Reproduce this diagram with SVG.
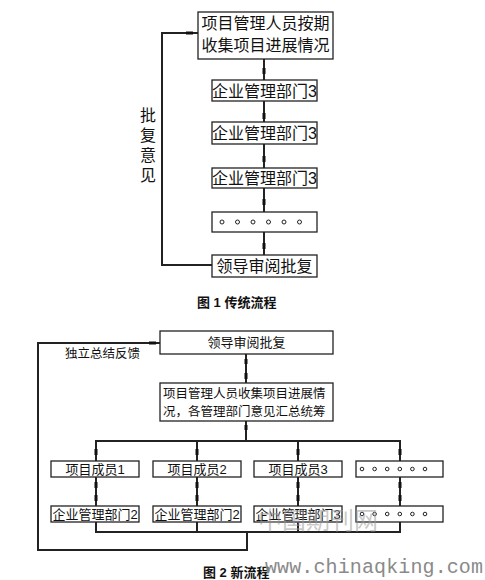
<svg xmlns="http://www.w3.org/2000/svg" width="485" height="580" viewBox="0 0 485 580">
<style>
.box{fill:#fff;stroke:#222;stroke-width:1.3}
.ln{fill:none;stroke:#222;stroke-width:2}
.mk{fill:#111}
.t16{font-family:"Liberation Sans","Noto Sans CJK SC",sans-serif;font-size:16px;fill:#111;text-anchor:middle}
.t13{font-family:"Liberation Sans","Noto Sans CJK SC",sans-serif;font-size:13px;fill:#111;text-anchor:middle}
.t12{font-family:"Liberation Sans","Noto Sans CJK SC",sans-serif;font-size:12.5px;fill:#111}
.cap{font-family:"Liberation Sans","Noto Sans CJK SC",sans-serif;font-size:13px;font-weight:bold;fill:#111}
.dot{fill:#fff;stroke:#222;stroke-width:1}
</style>
<rect width="485" height="580" fill="#fff"/>

<g id="connectors">
  <!-- Figure 1 -->
  <path class="ln" d="M264,59 V255"/>
  <path class="ln" d="M198,33 H162 V265 H212"/>
  <rect class="mk" x="186" y="31.5" width="7" height="3"/>
  <rect class="mk" x="262.5" y="68" width="3" height="6"/>
  <rect class="mk" x="262.5" y="113" width="3" height="6"/>
  <rect class="mk" x="262.5" y="156" width="3" height="6"/>
  <rect class="mk" x="262.5" y="199" width="3" height="6"/>
  <rect class="mk" x="262.5" y="243" width="3" height="6"/>
  <!-- Figure 2 -->
  <path class="ln" d="M160,343 H38 V550 H247 V532"/>
  <rect class="mk" x="149" y="341.5" width="7" height="3"/>
  <path class="ln" d="M246,354 V441"/>
  <rect class="mk" x="244.5" y="359" width="3" height="5"/>
  <rect class="mk" x="244.5" y="373" width="3" height="6"/>
  <rect class="mk" x="244.5" y="425" width="3" height="5"/>
  <path class="ln" d="M96,461 V441 H400 V461"/>
  <path class="ln" d="M197,441 V461 M298,441 V461"/>
  <path class="ln" d="M96,477 V506 M197,477 V506 M298,477 V506 M400,477 V506"/>
  <path class="ln" d="M96,522 V532 H400 V522 M197,522 V532 M298,522 V532"/>
  <rect class="mk" x="94.5" y="449" width="3" height="6"/>
  <rect class="mk" x="195.5" y="449" width="3" height="6"/>
  <rect class="mk" x="296.5" y="449" width="3" height="6"/>
  <rect class="mk" x="398.5" y="449" width="3" height="6"/>
  <rect class="mk" x="94.5" y="482" width="3" height="6"/>
  <rect class="mk" x="94.5" y="495" width="3" height="6"/>
  <rect class="mk" x="195.5" y="482" width="3" height="6"/>
  <rect class="mk" x="195.5" y="495" width="3" height="6"/>
  <rect class="mk" x="296.5" y="482" width="3" height="6"/>
  <rect class="mk" x="296.5" y="495" width="3" height="6"/>
  <rect class="mk" x="398.5" y="482" width="3" height="6"/>
  <rect class="mk" x="398.5" y="495" width="3" height="6"/>
</g>

<!-- Figure 1 nodes -->
<g id="f1-collect">
  <rect class="box" x="198" y="12" width="135" height="47"/>
  <text class="t16" x="265.5" y="29">项目管理人员按期</text>
  <text class="t16" x="265.5" y="51">收集项目进展情况</text>
</g>
<g id="f1-dept1">
  <rect class="box" x="212" y="80" width="105" height="21"/>
  <text class="t16" x="264.5" y="96.5">企业管理部门3</text>
</g>
<g id="f1-dept2">
  <rect class="box" x="212" y="122" width="105" height="22"/>
  <text class="t16" x="264.5" y="139">企业管理部门3</text>
</g>
<g id="f1-dept3">
  <rect class="box" x="212" y="168" width="105" height="20"/>
  <text class="t16" x="264.5" y="184">企业管理部门3</text>
</g>
<g id="f1-dots">
  <rect class="box" x="212" y="212" width="105" height="20"/>
  <circle class="dot" cx="222" cy="222" r="2"/>
  <circle class="dot" cx="237.5" cy="222" r="2"/>
  <circle class="dot" cx="253" cy="222" r="2"/>
  <circle class="dot" cx="268.5" cy="222" r="2"/>
  <circle class="dot" cx="284" cy="222" r="2"/>
  <circle class="dot" cx="299.5" cy="222" r="2"/>
</g>
<g id="f1-leader">
  <rect class="box" x="212" y="255" width="105" height="22"/>
  <text class="t16" x="264.5" y="272">领导审阅批复</text>
</g>
<g id="f1-label">
  <text class="t16" x="148" y="121">批</text>
  <text class="t16" x="148" y="141">复</text>
  <text class="t16" x="148" y="161">意</text>
  <text class="t16" x="148" y="181">见</text>
</g>
<text class="cap" x="197" y="307">图 1 传统流程</text>

<!-- Figure 2 nodes -->
<g id="f2-leader">
  <rect class="box" x="160" y="331" width="173" height="23"/>
  <text class="t13" x="246.5" y="347">领导审阅批复</text>
</g>
<g id="f2-collect">
  <rect class="box" x="160" y="383" width="173" height="38"/>
  <text class="t12" x="163" y="398">项目管理人员收集项目进展情</text>
  <text class="t12" x="163" y="416">况，各管理部门意见汇总统筹</text>
</g>
<text class="t12" x="65" y="358">独立总结反馈</text>
<g id="f2-m1">
  <rect class="box" x="51" y="461" width="88" height="16"/>
  <text class="t13" x="95" y="474">项目成员1</text>
</g>
<g id="f2-m2">
  <rect class="box" x="153" y="461" width="88" height="16"/>
  <text class="t13" x="197" y="474">项目成员2</text>
</g>
<g id="f2-m3">
  <rect class="box" x="254" y="461" width="88" height="16"/>
  <text class="t13" x="298" y="474">项目成员3</text>
</g>
<g id="f2-mdots">
  <rect class="box" x="356" y="461" width="87" height="16"/>
  <circle class="dot" cx="362" cy="469" r="1.8"/>
  <circle class="dot" cx="374.6" cy="469" r="1.8"/>
  <circle class="dot" cx="387.2" cy="469" r="1.8"/>
  <circle class="dot" cx="399.8" cy="469" r="1.8"/>
  <circle class="dot" cx="412.4" cy="469" r="1.8"/>
  <circle class="dot" cx="425" cy="469" r="1.8"/>
</g>
<g id="f2-d1">
  <rect class="box" x="51" y="506" width="88" height="16"/>
  <text class="t13" x="95" y="519">企业管理部门2</text>
</g>
<g id="f2-d2">
  <rect class="box" x="153" y="506" width="88" height="16"/>
  <text class="t13" x="197" y="519">企业管理部门2</text>
</g>
<g id="f2-d3">
  <rect class="box" x="254" y="506" width="88" height="16"/>
  <text class="t13" x="298" y="519">企业管理部门3</text>
</g>
<g id="f2-ddots">
  <rect class="box" x="356" y="506" width="87" height="16"/>
  <circle class="dot" cx="362" cy="514" r="1.8"/>
  <circle class="dot" cx="374.6" cy="514" r="1.8"/>
  <circle class="dot" cx="387.2" cy="514" r="1.8"/>
  <circle class="dot" cx="399.8" cy="514" r="1.8"/>
  <circle class="dot" cx="412.4" cy="514" r="1.8"/>
  <circle class="dot" cx="425" cy="514" r="1.8"/>
</g>
<text class="cap" x="203" y="577">图 2 新流程</text>

<!-- watermark -->
<text x="258" y="529" font-family="'Noto Sans CJK SC',sans-serif" font-size="24" fill="#999" fill-opacity="0.55" textLength="120">中国期刊网</text>
<text x="265" y="573" font-family="'Liberation Mono',monospace" font-size="20" fill="#8a8a8a" textLength="218">www.chinaqking.com</text>
</svg>
